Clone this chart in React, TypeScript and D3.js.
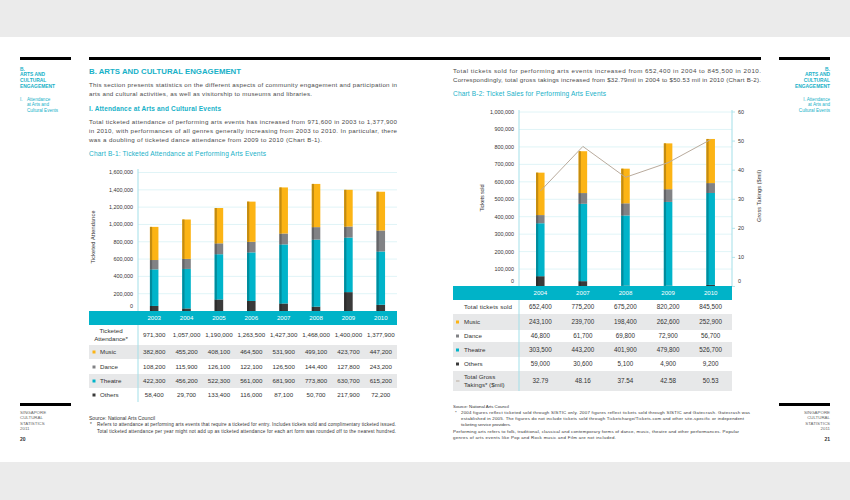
import * as d3 from "d3";

// Chart B-1: ticketed attendance at performing arts events
const yearsB1 = ["2003", "2004", "2005", "2006", "2007", "2008", "2009", "2010"];
const totalB1 = [971300, 1057000, 1190000, 1263500, 1427300, 1468000, 1400000, 1377900];
const musicB1 = [382800, 455200, 408100, 464500, 531900, 499100, 423700, 447200];
const danceB1 = [108200, 115900, 126100, 122100, 126500, 144400, 127800, 243200];
const theatreB1 = [422300, 456200, 522300, 561000, 681900, 773800, 630700, 615200];
const othersB1 = [58400, 29700, 133400, 116000, 87100, 50700, 217900, 72200];
const ticksB1 = [0, 200000, 400000, 600000, 800000, 1000000, 1200000, 1400000, 1600000];

// Chart B-2: ticket sales for performing arts events
const yearsB2 = ["2004", "2007", "2008", "2009", "2010"];
const totalB2 = [652400, 775200, 675200, 820200, 845500];
const musicB2 = [243100, 239700, 198400, 262600, 252900];
const danceB2 = [46800, 61700, 69800, 72900, 56700];
const theatreB2 = [303500, 443200, 401900, 479800, 526700];
const othersB2 = [59000, 30600, 5100, 4900, 9200];
const grossB2 = [32.79, 48.16, 37.54, 42.58, 50.53];
const ticksB2 = [0, 100000, 200000, 300000, 400000, 500000, 600000, 700000, 800000, 900000, 1000000];
const ticksGross = [0, 10, 20, 30, 40, 50, 60];

const seriesKeys = ["others", "theatre", "dance", "music"]; // bottom first
const seriesLabel: Record<string, string> = { music: "Music", dance: "Dance", theatre: "Theatre", others: "Others" };
const seriesColor: Record<string, string> = {
  music: "#fcb415",
  dance: "#818285",
  theatre: "#00b4ca",
  others: "#3a3a3a",
};

const CYAN = "#17b1c8";
const BAND = "#00b3c8";
const TEXT = "#4a4a4a";
const DARK = "#333333";
const GRID = "#d8f1f5";
const AXIS = "#a3dfe8";
const ROW_BG = "#e7e8e9";
const LINE = "#b9ab9d";
const FONT = "'Liberation Sans', Arial, Helvetica, sans-serif";

const fmt = d3.format(",");

function T(props: {
  x: number;
  y: number;
  w?: number;
  size?: number;
  fill?: string;
  bold?: boolean;
  anchor?: string;
  children: any;
}) {
  const { x, y, w, size = 6.2, fill = TEXT, bold, anchor = "start", children } = props;
  return (
    <text
      x={x}
      y={y}
      fontSize={size}
      fill={fill}
      fontWeight={bold ? "bold" : "normal"}
      textAnchor={anchor}
      textLength={w}
      lengthAdjust={w ? "spacing" : undefined}
    >
      {children}
    </text>
  );
}

function StackedBars({ years, cols, x, y, bw }: any) {
  const rows = years.map((yr: string, i: number) => {
    const r: any = { year: yr };
    seriesKeys.forEach((k) => (r[k] = cols[k][i]));
    return r;
  });
  const layers = d3.stack<any>().keys(seriesKeys)(rows);
  return (
    <g>
      {layers.map((layer) =>
        layer.map((d, i) => {
          const cx = x(years[i]) + x.bandwidth() / 2;
          const top = y(d[1]);
          const h = y(d[0]) - top;
          const c = seriesColor[layer.key];
          return (
            <g key={layer.key + i}>
              <rect x={cx - bw / 2} y={top} width={bw} height={h} fill={c} />
              <rect x={cx - bw / 2} y={top} width={2.2} height={h} fill={d3.color(c)!.darker(0.7).toString()} />
            </g>
          );
        })
      )}
    </g>
  );
}

function Bullet({ x, y, color }: { x: number; y: number; color: string }) {
  return <rect x={x} y={y - 1.5} width={3} height={3} fill={color} />;
}

export default function App() {
  // chart B-1
  const x1 = d3.scaleBand<string>().domain(yearsB1).range([138, 397]);
  const y1 = d3.scaleLinear().domain([0, 1600000]).range([311, 172.5]);
  const c1 = (yr: string) => x1(yr)! + x1.bandwidth() / 2;
  // chart B-2
  const x2 = d3.scaleBand<string>().domain(yearsB2).range([519, 732]);
  const y2 = d3.scaleLinear().domain([0, 1000000]).range([286.5, 112]);
  const yG = d3.scaleLinear().domain([0, 60]).range([286.5, 112]);
  const c2 = (yr: string) => x2(yr)! + x2.bandwidth() / 2;
  const grossPath = d3
    .line<number>()
    .x((_, i) => c2(yearsB2[i]))
    .y((d) => yG(d))(grossB2);

  const colsB1: any = { music: musicB1, dance: danceB1, theatre: theatreB1, others: othersB1 };
  const colsB2: any = { music: musicB2, dance: danceB2, theatre: theatreB2, others: othersB2 };

  const rowsB1 = [
    { key: "music", y: 352, shade: [345, 359] },
    { key: "dance", y: 367 },
    { key: "theatre", y: 381, shade: [374, 388] },
    { key: "others", y: 395 },
  ];
  const rowsB2 = [
    { key: "music", y: 322, shade: [314, 330] },
    { key: "dance", y: 336 },
    { key: "theatre", y: 350, shade: [342, 357] },
    { key: "others", y: 364 },
  ];

  return (
    <div style={{ position: "absolute", left: 0, top: 0 }}>
      <svg width={850} height={500} style={{ display: "block", fontFamily: FONT }}>
        <rect width={850} height={500} fill="#ebebeb" />
        <rect y={37} width={850} height={425} fill="#ffffff" />

        {/* top rules */}
        <rect x={20} y={57} width={51} height={3} fill="#000" />
        <rect x={89} y={57} width={672} height={3} fill="#000" />
        <rect x={779} y={57} width={51} height={3} fill="#000" />

        {/* left sidebar */}
        <g fill={CYAN}>
          <T x={20} y={70.5} size={4.9} bold fill={CYAN}>B.</T>
          <T x={20} y={76.3} size={4.9} bold fill={CYAN}>ARTS AND</T>
          <T x={20} y={82.1} size={4.9} bold fill={CYAN}>CULTURAL</T>
          <T x={20} y={87.9} size={4.9} bold fill={CYAN} w={35}>ENGAGEMENT</T>
          <T x={20} y={100.5} size={4.6} fill={CYAN}>I.</T>
          <T x={27} y={100.5} size={4.6} fill={CYAN}>Attendance</T>
          <T x={27} y={106.3} size={4.6} fill={CYAN}>at Arts and</T>
          <T x={27} y={112.1} size={4.6} fill={CYAN}>Cultural Events</T>
        </g>
        {/* right sidebar */}
        <T x={830} y={70.5} size={4.9} bold fill={CYAN} anchor="end">B.</T>
        <T x={830} y={76.3} size={4.9} bold fill={CYAN} anchor="end">ARTS AND</T>
        <T x={830} y={82.1} size={4.9} bold fill={CYAN} anchor="end">CULTURAL</T>
        <T x={830} y={87.9} size={4.9} bold fill={CYAN} anchor="end">ENGAGEMENT</T>
        <T x={830} y={100.5} size={4.6} fill={CYAN} anchor="end">I. Attendance</T>
        <T x={830} y={106.3} size={4.6} fill={CYAN} anchor="end">at Arts and</T>
        <T x={830} y={112.1} size={4.6} fill={CYAN} anchor="end">Cultural Events</T>

        {/* left page text */}
        <T x={89} y={73.5} size={7.8} bold fill={CYAN} w={152}>B. ARTS AND CULTURAL ENGAGEMENT</T>
        <T x={89} y={86.5} w={308}>This section presents statistics on the different aspects of community engagement and participation in</T>
        <T x={89} y={95.5} w={223}>arts and cultural activities, as well as visitorship to museums and libraries.</T>
        <T x={89} y={110.5} size={6.5} bold fill={CYAN} w={132}>I. Attendance at Arts and Cultural Events</T>
        <T x={89} y={123.5} w={308}>Total ticketed attendance of performing arts events has increased from 971,600 in 2003 to 1,377,900</T>
        <T x={89} y={132.5} w={308}>in 2010, with performances of all genres generally increasing from 2003 to 2010. In particular, there</T>
        <T x={89} y={141.5} w={233}>was a doubling of ticketed dance attendance from 2009 to 2010 (Chart B-1).</T>
        <T x={89} y={156} size={6.6} fill={CYAN} w={177}>Chart B-1: Ticketed Attendance at Performing Arts Events</T>

        {/* chart B-1 */}
        {ticksB1.map((t) => (
          <g key={t}>
            {t > 0 && <line x1={138} x2={397} y1={y1(t)} y2={y1(t)} stroke={GRID} strokeWidth={0.8} />}
            <T x={133} y={(t === 0 ? y1(t) - 5 : y1(t)) + 1.9} size={5.4} fill={DARK} anchor="end">
              {fmt(t)}
            </T>
          </g>
        ))}
        <g transform="translate(94.5,237) rotate(-90)">
          <T x={0} y={0} size={5.5} fill={DARK} anchor="middle" w={53}>Ticketed Attendance</T>
        </g>
        <StackedBars years={yearsB1} cols={colsB1} x={x1} y={y1} bw={8.5} />

        {/* table B-1 */}
        {rowsB1.map((r) => r.shade && <rect key={r.key} x={89} y={r.shade[0]} width={308} height={r.shade[1] - r.shade[0]} fill={ROW_BG} />)}
        <line x1={138} x2={138} y1={169} y2={402} stroke={AXIS} strokeWidth={1} />
        <rect x={89} y={311} width={308} height={14} fill={BAND} />
        {yearsB1.map((yr) => (
          <T key={yr} x={c1(yr)} y={320.2} fill="#fff" anchor="middle" size={6.1}>{yr}</T>
        ))}
        <T x={111} y={333} anchor="middle" fill={DARK}>Ticketed</T>
        <T x={111} y={341} anchor="middle" fill={DARK}>Attendance*</T>
        {totalB1.map((v, i) => (
          <T key={i} x={c1(yearsB1[i])} y={337.2} anchor="middle" fill={DARK}>{fmt(v)}</T>
        ))}
        {rowsB1.map((r) => (
          <g key={r.key}>
            <Bullet x={92.5} y={r.y} color={seriesColor[r.key]} />
            <T x={100} y={r.y + 2.2} fill={DARK}>{seriesLabel[r.key]}</T>
            {colsB1[r.key].map((v: number, i: number) => (
              <T key={i} x={c1(yearsB1[i])} y={r.y + 2.2} anchor="middle" fill={DARK}>{fmt(v)}</T>
            ))}
          </g>
        ))}

        {/* left notes */}
        <T x={89} y={419.5} size={5} fill={DARK} w={66}>Source: National Arts Council</T>
        <T x={90} y={426.3} size={4.6} fill={DARK}>*</T>
        <T x={97} y={426.3} size={4.6} fill={DARK} w={299}>Refers to attendance at performing arts events that require a ticketed for entry. Includes tickets sold and complimentary ticketed issued.</T>
        <T x={97} y={433} size={4.6} fill={DARK} w={299}>Total ticketed attendance per year might not add up as ticketed attendance for each art form was rounded off to the nearest hundred.</T>

        {/* left footer */}
        <rect x={20} y={403} width={51} height={3} fill="#000" />
        <T x={20} y={414.2} size={4.4} fill="#666">SINGAPORE</T>
        <T x={20} y={419.4} size={4.4} fill="#666">CULTURAL</T>
        <T x={20} y={424.6} size={4.4} fill="#666">STATISTICS</T>
        <T x={20} y={429.8} size={4.4} fill="#666">2011</T>
        <T x={20} y={441} size={5} bold fill={DARK}>20</T>

        {/* right page text */}
        <T x={453} y={72.5} w={308}>Total tickets sold for performing arts events increased from 652,400 in 2004 to 845,500 in 2010.</T>
        <T x={453} y={81.5} w={308}>Correspondingly, total gross takings increased from $32.79mil in 2004 to $50.53 mil in 2010 (Chart B-2).</T>
        <T x={453} y={95.5} size={6.6} fill={CYAN} w={153}>Chart B-2: Ticket Sales for Performing Arts Events</T>

        {/* chart B-2 */}
        {ticksB2.map((t) => (
          <g key={t}>
            {t > 0 && <line x1={519} x2={732} y1={y2(t)} y2={y2(t)} stroke={GRID} strokeWidth={0.8} />}
            <T x={514} y={(t === 0 ? y2(t) - 5.5 : y2(t)) + 1.9} size={5.4} fill={DARK} anchor="end">
              {fmt(t)}
            </T>
          </g>
        ))}
        {ticksGross.map((t) => (
          <g key={t}>
            <line x1={732} x2={735} y1={yG(t)} y2={yG(t)} stroke={AXIS} strokeWidth={0.8} />
            <T x={738} y={(t === 0 ? yG(t) - 5.5 : yG(t)) + 1.9} size={5.4} fill={DARK}>{t}</T>
          </g>
        ))}
        <line x1={732} x2={732} y1={110} y2={286} stroke={AXIS} strokeWidth={1} />
        <g transform="translate(484,198) rotate(-90)">
          <T x={0} y={0} size={5.5} fill={DARK} anchor="middle" w={27}>Tickets sold</T>
        </g>
        <g transform="translate(760.5,196) rotate(-90)">
          <T x={0} y={0} size={5.5} fill={DARK} anchor="middle" w={52}>Gross Takings ($mil)</T>
        </g>
        <StackedBars years={yearsB2} cols={colsB2} x={x2} y={y2} bw={8.5} />
        <path d={grossPath!} fill="none" stroke={LINE} strokeWidth={1} />

        {/* table B-2 */}
        {rowsB2.map((r) => r.shade && <rect key={r.key} x={453} y={r.shade[0]} width={279} height={r.shade[1] - r.shade[0]} fill={ROW_BG} />)}
        <rect x={453} y={371} width={279} height={20} fill={ROW_BG} />
        <line x1={519} x2={519} y1={110} y2={391} stroke={AXIS} strokeWidth={1} />
        <rect x={453} y={286} width={279} height={14} fill={BAND} />
        {yearsB2.map((yr) => (
          <T key={yr} x={c2(yr)} y={295.2} fill="#fff" anchor="middle" size={6.1}>{yr}</T>
        ))}
        <T x={464} y={309.2} fill={DARK} w={48}>Total tickets sold</T>
        {totalB2.map((v, i) => (
          <T key={i} x={c2(yearsB2[i])} y={309.2} anchor="middle" fill={DARK} size={6.3}>{fmt(v)}</T>
        ))}
        {rowsB2.map((r) => (
          <g key={r.key}>
            <Bullet x={456} y={r.y} color={seriesColor[r.key]} />
            <T x={464} y={r.y + 2.2} fill={DARK}>{seriesLabel[r.key]}</T>
            {colsB2[r.key].map((v: number, i: number) => (
              <T key={i} x={c2(yearsB2[i])} y={r.y + 2.2} anchor="middle" fill={DARK} size={6.3}>{fmt(v)}</T>
            ))}
          </g>
        ))}
        <line x1={456} x2={459.5} y1={381} y2={381} stroke={LINE} strokeWidth={1} />
        <T x={464} y={378.5} fill={DARK}>Total Gross</T>
        <T x={464} y={387} fill={DARK}>Takings* ($mil)</T>
        {grossB2.map((v, i) => (
          <T key={i} x={c2(yearsB2[i])} y={383.2} anchor="middle" fill={DARK} size={6.3}>{v.toFixed(2)}</T>
        ))}

        {/* right notes */}
        <T x={453} y={408} size={4.4} fill={DARK} w={56}>Source: National Arts Council</T>
        <T x={455} y={414} size={4.4} fill={DARK}>*</T>
        <T x={461} y={414} size={4.4} fill={DARK} w={289}>2004 figures reflect ticketed sold through SISTIC only. 2007 figures reflect tickets sold through SISTIC and Gatecrash. Gatecrash was</T>
        <T x={461} y={420.2} size={4.4} fill={DARK} w={283}>established in 2005. The figures do not include tickets sold through Ticketcharge/Tickets.com and other site-specific or independent</T>
        <T x={461} y={426.4} size={4.4} fill={DARK} w={50}>ticketing service providers.</T>
        <T x={453} y={432.6} size={4.4} fill={DARK} w={286}>Performing arts refers to folk, traditional, classical and contemporary forms of dance, music, theatre and other performances. Popular</T>
        <T x={453} y={438.8} size={4.4} fill={DARK} w={163}>genres of arts events like Pop and Rock music and Film are not included.</T>

        {/* right footer */}
        <rect x={779} y={403} width={51} height={3} fill="#000" />
        <T x={830} y={414.2} size={4.4} fill="#666" anchor="end">SINGAPORE</T>
        <T x={830} y={419.4} size={4.4} fill="#666" anchor="end">CULTURAL</T>
        <T x={830} y={424.6} size={4.4} fill="#666" anchor="end">STATISTICS</T>
        <T x={830} y={429.8} size={4.4} fill="#666" anchor="end">2011</T>
        <T x={830} y={441} size={5} bold fill={DARK} anchor="end">21</T>
      </svg>
    </div>
  );
}
